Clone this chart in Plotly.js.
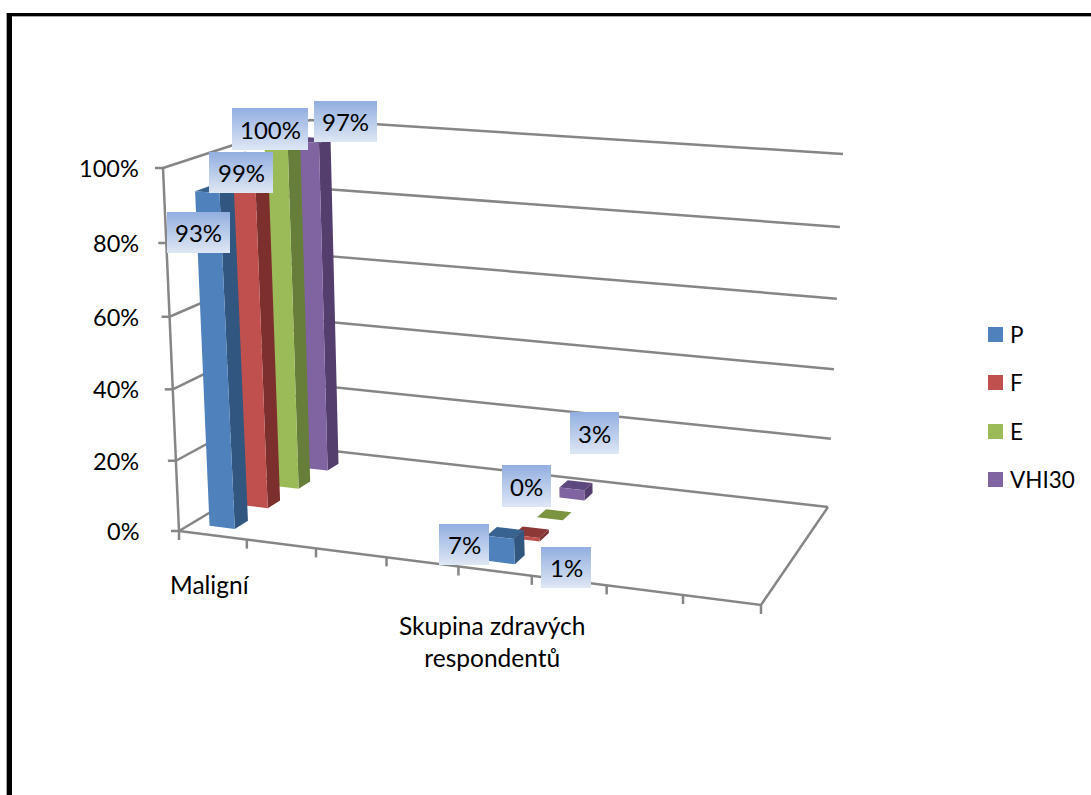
<!DOCTYPE html>
<html>
<head>
<meta charset="utf-8">
<script src="https://cdn.plot.ly/plotly-3.0.1.min.js"></script>
<style>html,body{margin:0;padding:0;background:#fff;overflow:hidden}#chart{width:1091px;height:795px}</style>
</head>
<body>
<div id="chart"></div>
<script>
// Values
const categories = ['Maligní', 'Skupina zdravých<br>respondentů'];
const seriesNames = ['P', 'F', 'E', 'VHI30'];
const P = [93, 7];
const F = [99, 1];
const E = [100, 0];
const VHI30 = [97, 3];
const yTicks = [0, 20, 40, 60, 80, 100];
const seriesValues = [P, F, E, VHI30];

// Colours per series: front, side and top faces
const frontColors = ['#4F81BD', '#C0504D', '#9BBB59', '#8064A2'];
const sideColors = ['#31567F', '#7D2F2D', '#677E3A', '#533E6E'];
const topColors = ['#386290', '#8C3836', '#7A9440', '#5D4880'];

// Pixel corners of the 3D box: floor and the 100 % plane (A front-left, B front-right, C back-right, D back-left)
const floorQuad = [[179, 531], [761, 605], [828, 507], [316, 449]];
const topQuad = [[163, 168], [775, 218], [843, 154], [310, 120]];

// Unit square to quad homography
function homography(q) {
  const [[x0, y0], [x1, y1], [x2, y2], [x3, y3]] = q;
  const dx1 = x1 - x2, dx2 = x3 - x2, sx = x0 - x1 + x2 - x3;
  const dy1 = y1 - y2, dy2 = y3 - y2, sy = y0 - y1 + y2 - y3;
  const det = dx1 * dy2 - dx2 * dy1;
  const g = (sx * dy2 - dx2 * sy) / det, h = (dx1 * sy - sx * dy1) / det;
  const a = x1 - x0 + g * x1, b = x3 - x0 + h * x3, c = x0;
  const d = y1 - y0 + g * y1, e = y3 - y0 + h * y3, f = y0;
  return (u, v) => {
    const k = g * u + h * v + 1;
    return [(a * u + b * v + c) / k, (d * u + e * v + f) / k];
  };
}
const floorMap = homography(floorQuad);
const topMap = homography(topQuad);

// u: along categories, v: depth, pct: value on the vertical axis
function project(u, v, pct) {
  const w = pct / 100, t = 0.96 * w / (1 - 0.04 * w);
  const a = floorMap(u, v), b = topMap(u, v);
  return [a[0] + (b[0] - a[0]) * t, a[1] + (b[1] - a[1]) * t];
}

const traces = [];
const axisColor = '#868686';
function polyline(pts, width) {
  traces.push({type: 'scatter', mode: 'lines', x: pts.map(p => p[0]), y: pts.map(p => p[1]),
    line: {color: axisColor, width: width || 2.5}, hoverinfo: 'skip', showlegend: false});
}

// Walls, floor and tick marks
yTicks.forEach(t => {
  const a = project(0, 0, t), d = project(0, 1, t), c = project(1, 1, t);
  polyline([a, d, c]);
  polyline([[a[0] - 8, a[1]], a]);
});
polyline([project(0, 0, 0), project(0, 0, 100)]);
polyline([project(0, 0, 0), project(1, 0, 0), project(1, 1, 0)]);
for (let i = 0; i <= 8; i++) {
  const p = project(i / 8, 0, 0);
  polyline([p, [p[0], p[1] + 9]]);
}

// Bars, back row first so nearer rows cover them
const barWidth = 0.047, barDepth = 0.09, barOffset = 0.034, rowStart = 0.08, rowPitch = 0.23;
function face(pts, color, name) {
  traces.push({type: 'scatter', mode: 'lines', x: pts.map(p => p[0]), y: pts.map(p => p[1]),
    fill: 'toself', fillcolor: color, line: {width: 0, color: color}, name: name,
    hoverinfo: 'skip', showlegend: false});
}
for (let s = seriesNames.length - 1; s >= 0; s--) {
  seriesValues[s].forEach((val, c) => {
    const u0 = c / categories.length + barOffset, u1 = u0 + barWidth;
    const v0 = rowStart + s * rowPitch, v1 = v0 + barDepth;
    const nm = seriesNames[s];
    face([project(u1, v0, 0), project(u1, v1, 0), project(u1, v1, val), project(u1, v0, val)], sideColors[s], nm);
    face([project(u0, v0, val), project(u1, v0, val), project(u1, v1, val), project(u0, v1, val)], topColors[s], nm);
    face([project(u0, v0, 0), project(u1, v0, 0), project(u1, v0, val), project(u0, v0, val)], frontColors[s], nm);
  });
}

// Data label plates, in the order of seriesValues then categories: [left, top, right, bottom]
const labelBoxes = [
  [[167, 212, 230, 253], [439, 524, 489, 565]],
  [[209, 152, 273, 193], [541, 547, 591, 588]],
  [[232, 108, 308, 150], [502, 465, 551, 507]],
  [[314, 101, 377, 142], [570, 412, 619, 454]]
];
const shapes = [];
const annotations = [];
const fontFamily = 'Lato, "Open Sans", sans-serif';
const fontSize = 24;
function mix(t) {
  const a = [148, 176, 224], b = [224, 232, 245];
  return 'rgb(' + a.map((v, i) => Math.round(v + (b[i] - v) * t)).join(',') + ')';
}
function rect(x0, y0, x1, y1, color) {
  shapes.push({type: 'rect', xref: 'x', yref: 'y', x0, y0, x1, y1, fillcolor: color, line: {width: 0}, layer: 'above'});
}
function text(x, y, str, anchor, size) {
  annotations.push({x, y, xref: 'x', yref: 'y', text: str, showarrow: false, xanchor: anchor || 'center', yanchor: 'middle',
    font: {family: fontFamily, size: size || fontSize, color: '#000'}, align: 'center'});
}
labelBoxes.forEach((row, s) => row.forEach((b, c) => {
  const h = b[3] - b[1];
  for (let y = 0; y < h; y += 2) rect(b[0], b[1] + y, b[2], Math.min(b[1] + y + 2, b[3]), mix(y / h));
  text((b[0] + b[2]) / 2, (b[1] + b[3]) / 2, seriesValues[s][c] + '%');
}));

// Vertical axis labels
yTicks.forEach(t => text(141, project(0, 0, t)[1], t + '%', 'right', 23.5));

// Category labels
text(210, 584, categories[0], 'center', 24.5);
text(492, 641, categories[1], 'center', 24.5);

// Legend
const legendRows = [334.5, 382.5, 431.5, 479.5];
seriesNames.forEach((n, i) => {
  rect(988, legendRows[i] - 7.5, 1003, legendRows[i] + 7.5, frontColors[i]);
  text(1008, legendRows[i], n, 'left', 22.5);
});

// Page frame
rect(7, 13, 1091, 16, '#000');
rect(7, 16, 1091, 17, '#A8A8A8');
rect(7, 13, 12, 795, '#000');
rect(6, 13, 7, 795, '#A8A8A8');

Plotly.newPlot('chart', traces, {
  width: 1091, height: 795,
  margin: {l: 0, r: 0, t: 0, b: 0},
  paper_bgcolor: '#fff', plot_bgcolor: '#fff',
  showlegend: false,
  xaxis: {range: [0, 1091], visible: false, fixedrange: true},
  yaxis: {range: [795, 0], visible: false, fixedrange: true},
  shapes, annotations
}, {displayModeBar: false, staticPlot: true});
</script>
</body>
</html>
